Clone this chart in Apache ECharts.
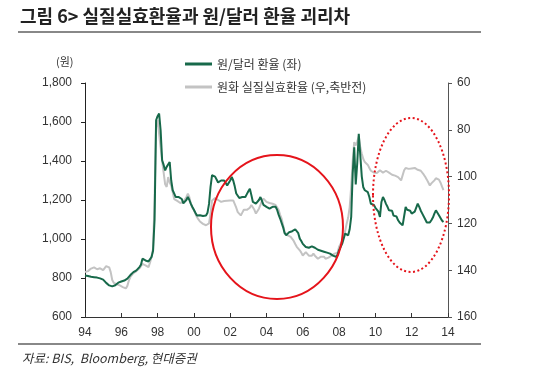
<!DOCTYPE html>
<html>
<head>
<meta charset="utf-8">
<script src="https://cdn.jsdelivr.net/npm/echarts@6/dist/echarts.min.js"></script>
<style>
  html, body { margin: 0; padding: 0; background: #fff; }
  #chart { width: 545px; height: 378px; }
</style>
</head>
<body>
<div id="chart"></div>
<script>
  // 월별 데이터, 1994.01 ~ 2013.10
  var startYear = 1994;
  var xTicks = ['94', '96', '98', '00', '02', '04', '06', '08', '10', '12', '14'];
  var seriesNames = ['원/달러 환율 (좌)', '원화 실질실효환율 (우,축반전)'];

  // 원/달러 환율 (좌)
  var krwUsd = [
    813, 811, 810, 808, 806, 805, 804, 803, 802, 800, 798, 797,        // 94
    792, 785, 775, 765, 762, 760, 757, 758, 763, 770, 776, 779,        // 95
    782, 785, 787, 790, 797, 805, 815, 822, 830, 836, 839, 845,        // 96
    856, 868, 899, 895, 890, 882, 885, 895, 908, 940, 1100, 1609,      // 97
    1630, 1643, 1557, 1404, 1380, 1352, 1370, 1380, 1395, 1300, 1250, 1233,
    1215, 1208, 1215, 1225, 1205, 1183, 1190, 1200, 1215, 1200, 1180, 1164,
    1150, 1135, 1121, 1125, 1122, 1120, 1118, 1120, 1121, 1135, 1180, 1267,
    1327, 1335, 1320, 1305, 1290, 1295, 1300, 1295, 1300, 1290, 1275, 1265,
    1300, 1318, 1300, 1270, 1233, 1225, 1210, 1208, 1215, 1225, 1215, 1230,
    1245, 1258, 1225, 1190, 1185, 1181, 1190, 1200, 1215, 1195, 1175, 1165,
    1165, 1160, 1156, 1158, 1165, 1170, 1165, 1150, 1125, 1105, 1096, 1060,
    1030, 1019, 1025, 1035, 1045, 1040, 1045, 1050, 1040, 1030, 1002, 990,
    975, 968, 959, 960, 955, 958, 962, 959, 955, 950, 945, 943,
    940, 938, 935, 933, 930, 928, 925, 920, 915, 910, 908, 920,
    943, 945, 975, 985, 1028, 1030, 1019, 1050, 1113, 1337, 1470, 1280,
    1390, 1540, 1430, 1320, 1265, 1250, 1248, 1240, 1215, 1181, 1178, 1175,
    1160, 1165, 1140, 1113, 1190, 1215, 1200, 1180, 1165, 1147, 1140, 1145,
    1120, 1118, 1115, 1096, 1085, 1075, 1070, 1080, 1164, 1150, 1140, 1145,
    1130, 1135, 1140, 1150, 1181, 1165, 1145, 1130, 1120, 1100, 1085, 1079,
    1085, 1096, 1110, 1130, 1147, 1140, 1122, 1115, 1095, 1087         // 13
  ];

  // 원화 실질실효환율 (우, 축반전)
  var reer = [
    140.8, 140.7, 140.4, 140.0, 139.3, 138.7, 138.8, 139.2, 139.6, 139.3, 139.2, 139.6,
    140.0, 139.2, 138.3, 137.9, 138.8, 140.8, 144.2, 145.4, 145.8, 146.0, 146.3, 146.5,
    146.8, 147.2, 147.5, 147.8, 146.7, 144.4, 142.9, 142.1, 141.3, 140.8, 140.4, 140.1,
    139.2, 138.3, 137.3, 137.5, 137.9, 138.3, 138.7, 136.7, 134.3, 130.8, 110.0, 78.8,
    75.9, 81.7, 87.5, 93.3, 98.3, 103.3, 104.4, 100.2, 102.5, 103.8, 106.7, 109.6,
    110.2, 110.4, 110.8, 111.3, 111.0, 110.8, 110.0, 108.8, 107.3, 108.8, 111.7, 113.3,
    114.4, 115.8, 117.3, 118.3, 119.2, 119.6, 120.2, 120.7, 120.8, 121.5, 120.0, 115.8,
    110.2, 109.6, 109.2, 109.4, 110.0, 110.4, 110.8, 110.7, 110.4, 110.2, 110.3, 110.2,
    110.2, 110.4, 110.2, 110.2, 113.3, 115.2, 115.8, 116.6, 115.4, 114.2, 113.7, 114.2,
    114.4, 113.3, 112.1, 111.6, 114.2, 115.8, 115.0, 113.7, 112.1, 110.4, 109.4, 110.0,
    110.8, 111.0, 111.3, 111.5, 111.6, 111.8, 112.1, 112.3, 114.2, 116.3, 118.0, 120.8,
    123.7, 124.2, 125.1, 125.4, 125.8, 126.5, 127.5, 128.8, 130.0, 130.8, 131.5, 132.5,
    133.7, 132.9, 132.3, 132.9, 133.8, 134.3, 133.8, 132.9, 133.8, 134.6, 135.1, 134.6,
    134.2, 133.7, 134.2, 135.1, 134.8, 134.6, 134.2, 133.8, 133.3, 132.9, 133.3, 132.5,
    130.0, 129.2, 127.5, 125.8, 123.3, 120.1, 117.5, 113.0, 104.4, 93.3, 85.3, 86.7,
    85.0, 82.9, 87.5, 90.2, 92.5, 93.8, 94.2, 95.0, 96.3, 97.5, 98.0, 98.3,
    98.8, 98.5, 97.9, 97.3, 97.7, 98.3, 98.0, 97.5, 97.9, 98.3, 98.8, 99.2,
    99.2, 99.6, 100.0, 100.2, 100.8, 101.6, 101.3, 97.3, 96.3, 95.9, 96.7, 97.1,
    96.5, 96.8, 96.3, 96.7, 97.1, 97.3, 97.5, 97.9, 99.2, 100.2, 101.3, 102.5,
    103.8, 102.9, 102.5, 101.6, 100.7, 100.2, 101.3, 102.5, 104.2, 105.8
  ];

  function toPoints(arr) {
    return arr.map(function (v, i) { return [startYear + i / 12, v]; });
  }

  var font = '"Liberation Sans", "Noto Sans CJK KR", sans-serif';
  var kfont = '"Noto Sans CJK KR", sans-serif';

  var myChart = echarts.init(document.getElementById('chart'));
  myChart.setOption({
    animation: false,
    backgroundColor: '#fff',
    grid: { left: 85, right: 97, top: 83, bottom: 61, containLabel: false },
    legend: {
      data: seriesNames,
      orient: 'vertical',
      left: 180,
      top: 53,
      icon: 'rect',
      itemWidth: 27,
      itemHeight: 3,
      itemGap: 11,
      textStyle: { fontFamily: kfont, fontSize: 12, color: '#333' }
    },
    xAxis: {
      type: 'value',
      min: 1994,
      max: 2014,
      interval: 2,
      axisLine: { lineStyle: { color: '#333', width: 1 } },
      axisTick: { inside: true, length: 4, lineStyle: { color: '#333' } },
      splitLine: { show: false },
      axisLabel: {
        margin: 10,
        fontFamily: font,
        fontSize: 12,
        color: '#333',
        formatter: function (v) { return xTicks[Math.round((v - startYear) / 2)]; }
      }
    },
    yAxis: [
      {
        type: 'value',
        min: 600,
        max: 1800,
        interval: 200,
        axisLine: { show: true, lineStyle: { color: '#222' } },
        axisTick: { show: true, length: 4, lineStyle: { color: '#222' } },
        splitLine: { show: false },
        axisLabel: {
          margin: 13,
          fontFamily: font,
          fontSize: 12,
          color: '#333',
          formatter: function (v) { return v.toLocaleString('en-US'); }
        }
      },
      {
        type: 'value',
        inverse: true,
        min: 60,
        max: 160,
        interval: 20,
        position: 'right',
        axisLine: { show: true, lineStyle: { color: '#555' } },
        axisTick: { show: true, length: 4, lineStyle: { color: '#555' } },
        splitLine: { show: false },
        axisLabel: { margin: 9, fontFamily: font, fontSize: 12, color: '#333' }
      }
    ],
    series: [
      {
        name: seriesNames[1],
        type: 'line',
        yAxisIndex: 1,
        data: toPoints(reer),
        showSymbol: false,
        lineStyle: { color: '#c3c3c3', width: 2 },
        itemStyle: { color: '#c3c3c3' }
      },
      {
        name: seriesNames[0],
        type: 'line',
        yAxisIndex: 0,
        data: toPoints(krwUsd),
        showSymbol: false,
        lineStyle: { color: '#17694a', width: 2 },
        itemStyle: { color: '#17694a' }
      }
    ],
    graphic: [
      {
        type: 'text', left: 20, top: 7,
        style: { text: '그림 6> 실질실효환율과 원/달러 환율 괴리차', font: 'bold 18px "Noto Sans CJK KR"', fill: '#222' }
      },
      { type: 'line', shape: { x1: 18, y1: 32, x2: 481, y2: 32 }, style: { stroke: '#888', lineWidth: 2 } },
      {
        type: 'text', left: 56, top: 56,
        style: { text: '(원)', font: '11px "Noto Sans CJK KR"', fill: '#333' }
      },
      // 빨간 원 (02~08)
      {
        type: 'ellipse', z: 100,
        shape: { cx: 277, cy: 227, rx: 66, ry: 72 },
        style: { fill: 'none', stroke: '#e5141b', lineWidth: 2 }
      },
      // 점선 타원 (10~14)
      {
        type: 'ellipse', z: 100,
        shape: { cx: 411, cy: 195, rx: 38, ry: 77 },
        style: { fill: 'none', stroke: '#e5141b', lineWidth: 2, lineDash: [2, 2.5] }
      },
      { type: 'line', shape: { x1: 18, y1: 344, x2: 481, y2: 344 }, style: { stroke: '#888', lineWidth: 2 } },
      {
        type: 'text', left: 22, top: 352,
        style: { text: '자료: BIS,  Bloomberg, 현대증권', font: 'italic 12.5px "Noto Sans CJK KR"', fill: '#333' }
      }
    ]
  });
</script>
</body>
</html>
